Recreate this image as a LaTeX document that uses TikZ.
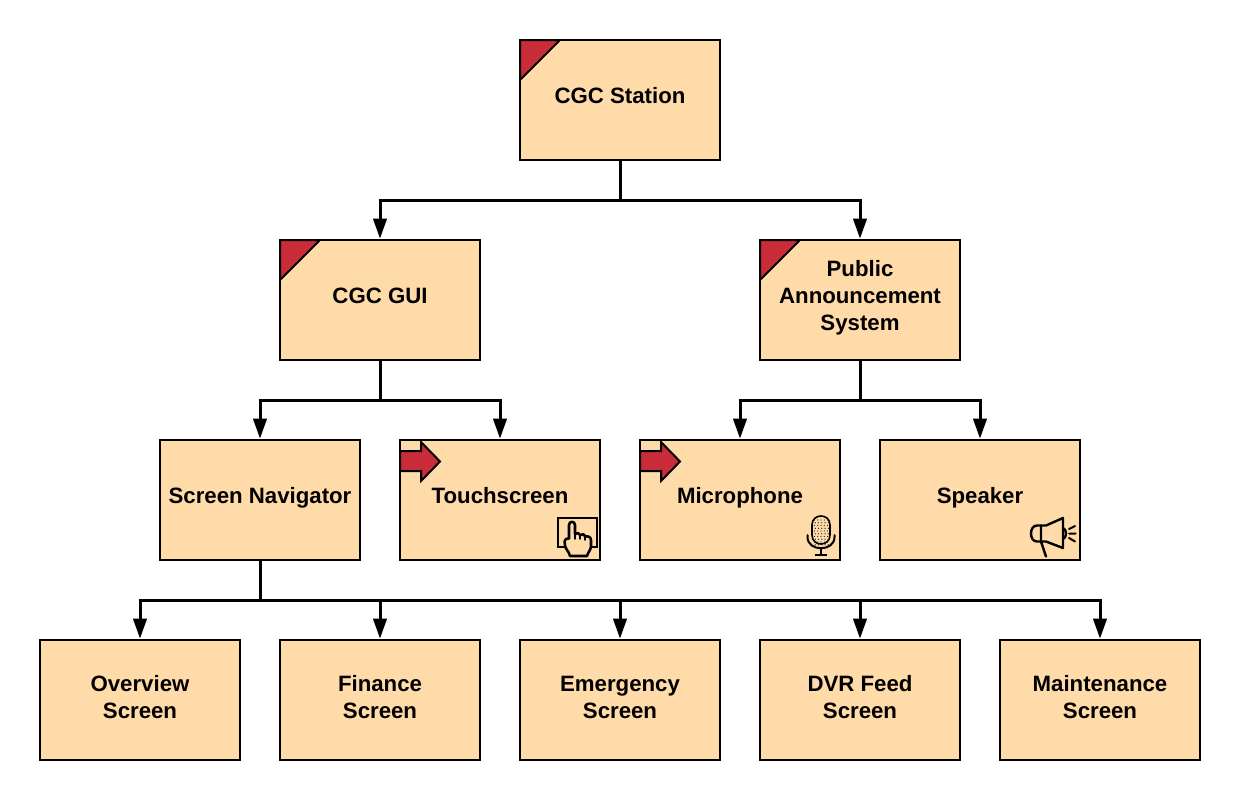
\documentclass[tikz,border=0pt]{standalone}
\usepackage{fontspec}
\setmainfont{Liberation Sans}
\usetikzlibrary{arrows.meta}
\definecolor{boxfill}{HTML}{FFDBA9}
\definecolor{markred}{HTML}{C92D39}
\newcommand\lifted[2][-3.0pt]{\raisebox{#1}[0pt][0pt]{\begin{tabular}{@{}c@{}}#2\end{tabular}}}
\tikzset{
  box/.style={draw=black,fill=boxfill,line width=1.5pt,minimum width=150pt,minimum height=90pt,inner sep=0pt,outer sep=0pt,font=\fontsize{16.67}{20.25}\selectfont\bfseries},
  conn/.style={draw=black,line width=2.25pt,shorten >=1pt,-{Triangle[length=15pt,width=10pt]}},
  marker/.style={draw=black,fill=markred,line width=1.5pt,line join=miter},
  icon/.style={draw=black,line width=1.5pt,line cap=round,line join=round},
}
\begin{document}
\begin{tikzpicture}[x=0.75pt,y=-0.75pt]
\useasboundingbox (0,0) rectangle (1240,800);
\node[box] (station) at (620,100) {\lifted{CGC Station}};
\node[box] (gui) at (380,300) {\lifted{CGC GUI}};
\node[box] (pa) at (860,300) {\lifted[-3.2pt]{Public\\Announcement\\System}};
\node[box] (nav) at (260,500) {\lifted{Screen Navigator}};
\node[box] (touch) at (500,500) {\lifted{Touchscreen}};
\node[box] (mic) at (740,500) {\lifted{Microphone}};
\node[box] (speaker) at (980,500) {\lifted{Speaker}};
\node[box] (overview) at (140,700) {\lifted[-4.2pt]{Overview\\Screen}};
\node[box] (finance) at (380,700) {\lifted[-4.2pt]{Finance\\Screen}};
\node[box] (emergency) at (620,700) {\lifted[-4.2pt]{Emergency\\Screen}};
\node[box] (dvr) at (860,700) {\lifted[-4.2pt]{DVR Feed\\Screen}};
\node[box] (maint) at (1100,700) {\lifted[-4.2pt]{Maintenance\\Screen}};
% connectors
\draw[conn] (station.south) -- ++(0,40) -| (gui.north);
\draw[conn] (station.south) -- ++(0,40) -| (pa.north);
\draw[conn] (gui.south) -- ++(0,40) -| (nav.north);
\draw[conn] (gui.south) -- ++(0,40) -| (touch.north);
\draw[conn] (pa.south) -- ++(0,40) -| (mic.north);
\draw[conn] (pa.south) -- ++(0,40) -| (speaker.north);
\draw[conn] (nav.south) -- ++(0,40) -| (overview.north);
\draw[conn] (nav.south) -- ++(0,40) -| (finance.north);
\draw[conn] (nav.south) -- ++(0,40) -| (emergency.north);
\draw[conn] (nav.south) -- ++(0,40) -| (dvr.north);
\draw[conn] (nav.south) -- ++(0,40) -| (maint.north);
% corner flags
\foreach \b in {station,gui,pa}{
  \draw[marker] (\b.north west) -- ++(40,0) -- ++(-40,40) -- cycle;
}
% arrow flags
\foreach \b in {touch,mic}{
  \draw[marker] (\b.north west) ++(0,11) -- ++(21,0) -- ++(0,-9) -- ++(19,19.5) -- ++(-19,19.5) -- ++(0,-10) -- ++(-21,0) -- cycle;
}
% touch icon
\draw[icon,line cap=butt,line join=miter] (558,518) rectangle (597,547);
\draw[icon,fill=boxfill,line width=1.9pt] (569,538.5) -- (569,525) .. controls (569,520.8) and (575,520.8) .. (575,525)
  -- (575,534) .. controls (577,532.5) and (580,532.8) .. (580,535)
  .. controls (582,533.5) and (585,534) .. (585,537)
  .. controls (587,535.5) and (591,536.5) .. (591,540)
  -- (591,546) .. controls (591,550) and (588,552) .. (587,556)
  -- (570,556) .. controls (569,551) and (565,549) .. (565,545) -- (564.5,541.5) .. controls (564.5,539) and (567,538) .. (569,538.5) -- cycle;
\draw[icon,line width=1pt] (575,534) -- (575,539) (580,535) -- (580,539) (585,537) -- (585,540);
% microphone icon
\draw[icon,line width=1.2pt,fill=boxfill] (812,525) .. controls (812,513) and (830,513) .. (830,525) -- (830,535) .. controls (830,547) and (812,547) .. (812,535) -- cycle;
\foreach \r in {0,...,9}{
  \foreach \c in {0,...,4}{
    \fill[black!85] ({814.5+\c*3.25+mod(\r,2)*0.8},{520+\r*2.75}) circle[radius=0.7];
  }
}
\draw[icon] (807.5,535) -- (807.5,537) .. controls (807.5,552) and (834.5,552) .. (834.5,537) -- (834.5,535);
\draw[icon,line cap=butt] (821,548) -- (821,555) (815,555) -- (827,555);
% speaker icon
\draw[icon,line width=1.8pt] (1063,518) -- (1063,548) -- (1046,541.5) -- (1037,541.5) .. controls (1029,541.5) and (1029,525.5) .. (1037,525.5) -- (1046,525.5) -- cycle;
\draw[icon,line width=1.8pt] (1041,525.5) -- (1041,541.5) -- (1046,556.5);
\draw[icon,line width=1.8pt] (1063,528) .. controls (1067,529) and (1067,538) .. (1063,539);
\draw[icon] (1069,529) -- (1075,526) (1069,533.5) -- (1075.5,533.5) (1069,538) -- (1075,541.5);
\end{tikzpicture}
\end{document}
